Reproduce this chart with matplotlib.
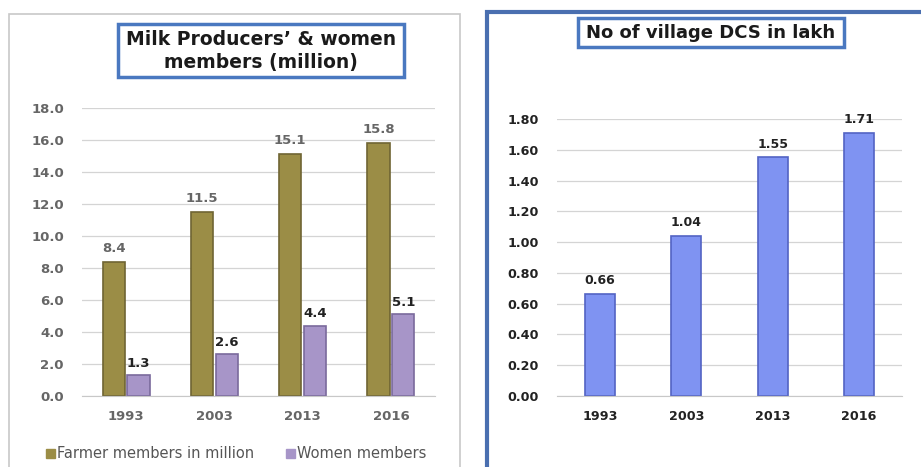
import numpy as np
import matplotlib
matplotlib.use("Agg")
import matplotlib.pyplot as plt
from matplotlib.patches import Rectangle

years = ["1993", "2003", "2013", "2016"]
farmers = [8.4, 11.5, 15.1, 15.8]
women = [1.3, 2.6, 4.4, 5.1]
dcs = [0.66, 1.04, 1.55, 1.71]

W, H = 921, 467
fig = plt.figure(figsize=(W / 100, H / 100), dpi=100)
plt.rcParams['font.family'] = ['DejaVu Sans']


def fx(px):
    return px / W


def fy(py):
    return 1 - py / H


# panel frames
fig.patches.append(Rectangle((fx(9), fy(470)), fx(451), fy(14) - fy(470),
                             transform=fig.transFigure, fill=False,
                             edgecolor="#c8c8c8", lw=1.2))
fig.patches.append(Rectangle((fx(487), fy(470)), fx(450), fy(12) - fy(470),
                             transform=fig.transFigure, fill=False,
                             edgecolor="#4a6fb0", lw=3))

# title boxes
fig.patches.append(Rectangle((fx(118), fy(77)), fx(286), fy(24) - fy(77),
                             transform=fig.transFigure, fill=False,
                             edgecolor="#4a78c0", lw=2.5))
fig.text(fx(261), fy(51), "Milk Producers’ & women\nmembers (million)",
         ha="center", va="center", fontsize=13.5, fontweight="bold",
         color="#1a1a1a", linespacing=1.25)
fig.patches.append(Rectangle((fx(578), fy(47)), fx(266), fy(18) - fy(47),
                             transform=fig.transFigure, fill=False,
                             edgecolor="#4a78c0", lw=2.5))
fig.text(fx(711), fy(33), "No of village DCS in lakh",
         ha="center", va="center", fontsize=13, fontweight="bold",
         color="#1a1a1a")


def style(ax, ymax, step, fmt, tick_color, size):
    ax.set_ylim(0, ymax)
    ax.set_yticks(np.arange(0, ymax + step / 2, step))
    ax.yaxis.set_major_formatter(matplotlib.ticker.FormatStrFormatter(fmt))
    ax.set_xlim(-0.5, len(years) - 0.5)
    ax.set_xticks(range(len(years)))
    ax.set_xticklabels(years)
    for s in ["top", "right", "left"]:
        ax.spines[s].set_visible(False)
    ax.spines["bottom"].set_color("#c8c8c8")
    ax.grid(axis="y", color="#d4d4d4", lw=0.9)
    ax.set_axisbelow(True)
    ax.tick_params(length=0, labelsize=size, colors=tick_color, pad=10)
    ax.tick_params(axis="y", pad=13)
    for t in ax.get_xticklabels() + ax.get_yticklabels():
        t.set_fontweight("bold")


# left chart
ax1 = fig.add_axes([fx(82), fy(396), fx(353), fy(108) - fy(396)])
style(ax1, 18, 2, "%.1f", "#666666", 9.5)
x = np.arange(len(years))
bw = 0.25
ax1.bar(x - 0.14, farmers, bw, color="#9b8d46", edgecolor="#6f6533", lw=1.2)
ax1.bar(x + 0.14, women, bw, color="#a795c8", edgecolor="#7a6a9c", lw=1.2)
for xi, v in zip(x, farmers):
    ax1.annotate(f"{v:.1f}", (xi - 0.14, v), xytext=(0, 5), textcoords="offset points",
                 ha="center", va="bottom", fontsize=9.5, fontweight="bold", color="#666666")
for xi, v in zip(x, women):
    ax1.annotate(f"{v:.1f}", (xi + 0.14, v), xytext=(0, 4), textcoords="offset points",
                 ha="center", va="bottom", fontsize=9.5, fontweight="bold", color="#222222")

handles = [Rectangle((0, 0), 1, 1, color="#9b8d46"), Rectangle((0, 0), 1, 1, color="#a795c8")]
leg = fig.legend(handles, ["Farmer members in million", "Women members"],
                 loc="center", bbox_to_anchor=(fx(236), fy(454)), ncol=2,
                 frameon=False, fontsize=10.5, handlelength=0.6, handleheight=0.6,
                 handletextpad=0.15, columnspacing=2.2)
for t in leg.get_texts():
    t.set_color("#555555")

# right chart
ax2 = fig.add_axes([fx(557), fy(396), fx(345), fy(119) - fy(396)])
style(ax2, 1.8, 0.2, "%.2f", "#222222", 9.2)
ax2.bar(x, dcs, 0.35, color="#7f93f2", edgecolor="#5363c4", lw=1.2)
for xi, v in zip(x, dcs):
    ax2.annotate(f"{v:.2f}", (xi, v), xytext=(0, 5), textcoords="offset points",
                 ha="center", va="bottom", fontsize=9, fontweight="bold", color="#222222")

fig.savefig("out.png", dpi=100)
